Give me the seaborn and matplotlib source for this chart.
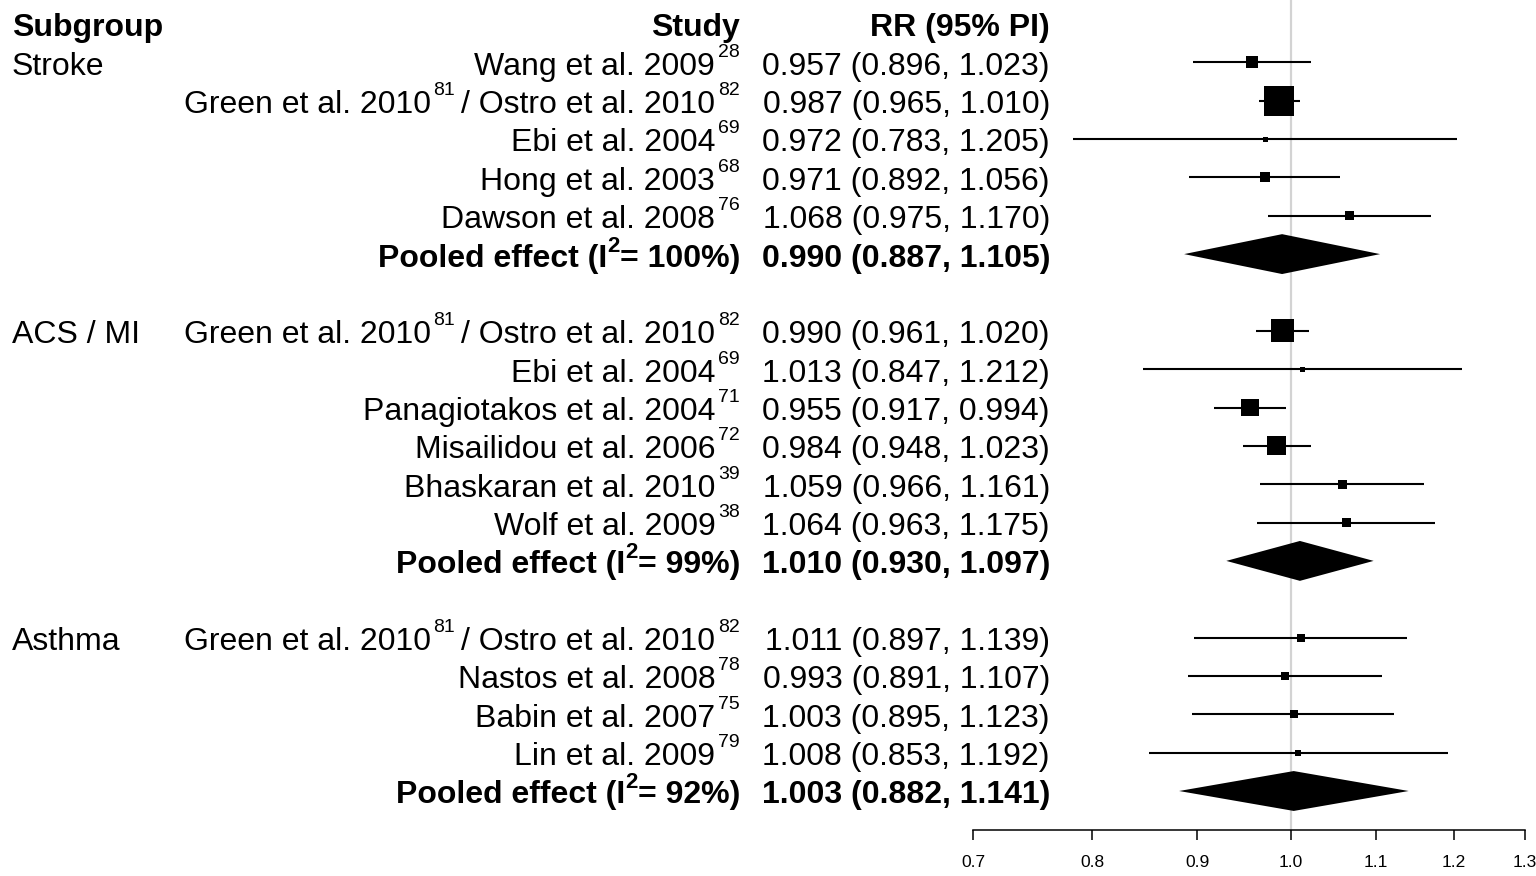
import numpy as np
import pandas as pd
import seaborn as sns
import matplotlib.pyplot as plt
from matplotlib.ticker import NullLocator, FixedLocator, FixedFormatter
from matplotlib.transforms import blended_transform_factory, offset_copy

# ---- data ----
groups = ['Stroke', 'ACS / MI', 'Asthma']

# each study label = list of (text, reference number) pieces
green_ostro = [('Green et al. 2010', '81'), ('/ Ostro et al. 2010', '82')]

stroke_studies = [[('Wang et al. 2009', '28')], green_ostro, [('Ebi et al. 2004', '69')],
                  [('Hong et al. 2003', '68')], [('Dawson et al. 2008', '76')]]
stroke_rr = [0.957, 0.987, 0.972, 0.971, 1.068]
stroke_lo = [0.896, 0.965, 0.783, 0.892, 0.975]
stroke_hi = [1.023, 1.010, 1.205, 1.056, 1.170]
stroke_box = [12, 30, 5, 10, 9]

acs_studies = [green_ostro, [('Ebi et al. 2004', '69')], [('Panagiotakos et al. 2004', '71')],
               [('Misailidou et al. 2006', '72')], [('Bhaskaran et al. 2010', '39')],
               [('Wolf et al. 2009', '38')]]
acs_rr = [0.990, 1.013, 0.955, 0.984, 1.059, 1.064]
acs_lo = [0.961, 0.847, 0.917, 0.948, 0.966, 0.963]
acs_hi = [1.020, 1.212, 0.994, 1.023, 1.161, 1.175]
acs_box = [23, 5, 18, 19, 9, 9]

asthma_studies = [green_ostro, [('Nastos et al. 2008', '78')], [('Babin et al. 2007', '75')],
                  [('Lin et al. 2009', '79')]]
asthma_rr = [1.011, 0.993, 1.003, 1.008]
asthma_lo = [0.897, 0.891, 0.895, 0.853]
asthma_hi = [1.139, 1.107, 1.123, 1.192]
asthma_box = [8, 8, 8, 6]

pooled_i2 = [100, 99, 92]
pooled_rr = [0.990, 1.010, 1.003]
pooled_lo = [0.887, 0.930, 0.882]
pooled_hi = [1.105, 1.097, 1.141]

x_ticks = [0.7, 0.8, 0.9, 1.0, 1.1, 1.2, 1.3]

# ---- build row table ----
study_sets = [
    (stroke_studies, stroke_rr, stroke_lo, stroke_hi, stroke_box),
    (acs_studies, acs_rr, acs_lo, acs_hi, acs_box),
    (asthma_studies, asthma_rr, asthma_lo, asthma_hi, asthma_box),
]
recs, pooled_rows, group_rows = [], [], []
row = 1
for g, (names, rr, lo, hi, box) in zip(groups, study_sets):
    group_rows.append(row)
    for n, r, l, h, b in zip(names, rr, lo, hi, box):
        recs.append(dict(group=g, label=n, rr=r, lo=l, hi=h, box=b, row=row))
        row += 1
    pooled_rows.append(row)
    row += 2
df = pd.DataFrame(recs)
# square side in px -> marker area in pt^2
df['area'] = (df['box'] / 1.389) ** 2

sns.set_theme(style='white')
plt.rcParams['font.family'] = ['Liberation Sans', 'DejaVu Sans']

W, H = 1536, 876
fig = plt.figure(figsize=(W / 100, H / 100), dpi=100)
ax = fig.add_axes([973 / W, 0, (1525 - 973) / W, 1])
ax.set_facecolor('white')

row_px = 38.35
top_row = -24 / row_px
bot_row = (H - 24) / row_px
axis_row = 21.02

# reference line at 1.0
frac = (bot_row - axis_row) / (bot_row - top_row)
ax.axvline(1.0, ymin=frac, ymax=1, color='#d3d3d3', lw=1.6, zorder=0)

# CI lines
ax.hlines(df['row'], df['lo'], df['hi'], color='black', lw=1.5, zorder=2)

# study boxes
amin, amax = df['area'].min(), df['area'].max()
sns.scatterplot(data=df, x='rr', y='row', size='area', sizes=(amin, amax),
                size_norm=(amin, amax), marker='s', color='black', linewidth=0,
                legend=False, ax=ax, zorder=3)

# pooled diamonds
for pr, est, lo, hi in zip(pooled_rows, pooled_rr, pooled_lo, pooled_hi):
    ax.fill([lo, est, hi, est], [pr, pr - 0.52, pr, pr + 0.52], color='black', lw=0, zorder=3)

ax.set_xscale('log')
ax.set_xlim(0.7, 1.3)
ax.set_ylim(bot_row, top_row)
ax.xaxis.set_minor_locator(NullLocator())
ax.xaxis.set_major_locator(FixedLocator(x_ticks))
ax.xaxis.set_major_formatter(FixedFormatter([f'{t:.1f}' for t in x_ticks]))
ax.set_yticks([])
ax.set_xlabel('')
ax.set_ylabel('')
for s in ['left', 'right', 'top']:
    ax.spines[s].set_visible(False)
ax.spines['bottom'].set_position(('data', axis_row))
ax.spines['bottom'].set_bounds(0.7, 1.3)
ax.spines['bottom'].set_color('black')
ax.spines['bottom'].set_linewidth(1.1)
ax.tick_params(axis='x', direction='out', length=7, width=1.1, labelsize=12.5,
               pad=11, colors='black', bottom=True)

# ---- text columns ----
renderer = fig.canvas.get_renderer()
tr = blended_transform_factory(fig.transFigure, ax.transData)
fs, sup_fs = 23, 14
cap = 0.716 * fs * 100 / 72
base_dy = -cap / 2 - 1
sup_raise = 18
x_sub, x_study, x_rr = 12 / W, 740 / W, 1050 / W


def put(x, y, txt, ha='right', bold=False, dx=0.0, dy=0.0, size=fs):
    t = ax.text(x, y, txt, transform=offset_copy(tr, fig=fig, x=dx, y=base_dy + dy, units='dots'),
                ha=ha, va='baseline', fontsize=size, color='black',
                fontweight='bold' if bold else 'normal', clip_on=False)
    return t.get_window_extent(renderer).width


def put_pieces(x, y, segs, bold=False, sup_size=sup_fs, raise_px=sup_raise):
    # segs: list of (text, is_sup, gap to the left piece) drawn right to left
    dx = 0.0
    for txt, sup, gap in reversed(segs):
        w = put(x, y, txt, bold=bold, dx=dx, dy=raise_px if sup else 0,
                size=sup_size if sup else fs)
        dx -= w + gap


put(x_sub, 0, 'Subgroup', ha='left', bold=True)
put(x_study, 0, 'Study', bold=True)
put(x_rr, 0, 'RR (95% PI)', bold=True)

for g, gr in zip(groups, group_rows):
    put(x_sub, gr, g, ha='left')

for _, r in df.iterrows():
    segs = []
    for txt, ref in r['label']:
        segs += [(txt, False, 6), (ref, True, 3)]
    put_pieces(x_study, r['row'], segs)
    put(x_rr, r['row'], f"{r['rr']:.3f} ({r['lo']:.3f}, {r['hi']:.3f})")

for pr, i2, est, lo, hi in zip(pooled_rows, pooled_i2, pooled_rr, pooled_lo, pooled_hi):
    put_pieces(x_study, pr, [('Pooled effect (I', False, 1), ('2', True, 0),
                             (f'= {i2}%)', False, 0)], bold=True, sup_size=16, raise_px=15)
    put(x_rr, pr, f'{est:.3f} ({lo:.3f}, {hi:.3f})', bold=True)

fig.savefig('out.png', dpi=100, facecolor='white')
